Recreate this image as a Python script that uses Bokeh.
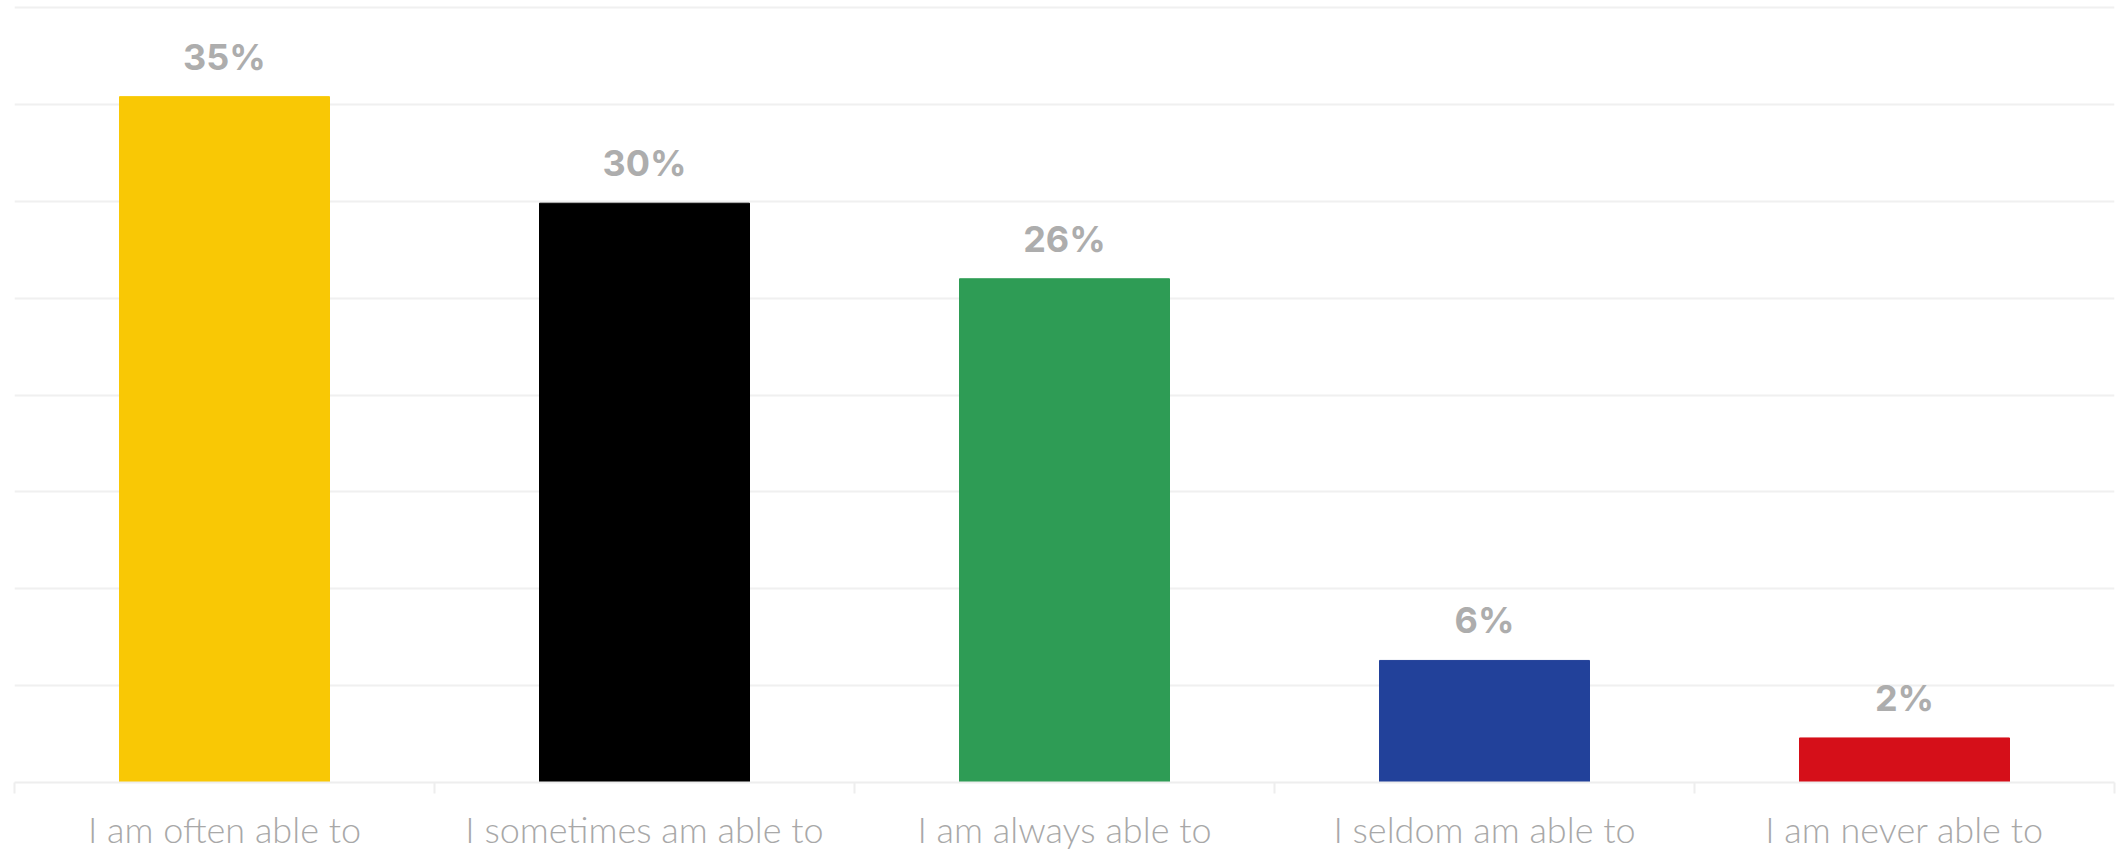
from bokeh.plotting import figure
from bokeh.models import Range1d, FixedTicker, LinearAxis, ColumnDataSource
from bokeh.core.properties import value
from bokeh.embed import file_html
from bokeh.resources import INLINE

categories = ["I am often able to", "I sometimes am able to", "I am always able to",
              "I seldom am able to", "I am never able to"]
values = [35.4, 29.9, 26.0, 6.3, 2.3]
value_labels = ["35%", "30%", "26%", "6%", "2%"]
colors = ["#F9C805", "#000000", "#2E9C55", "#22419A", "#D50F19"]
y_ticks = [0, 5, 10, 15, 20, 25, 30, 35, 40]

n = len(categories)
centers = [i + 0.5 for i in range(n)]
src = ColumnDataSource(dict(x=centers, top=values, lab=value_labels, color=colors))

FH = 779
p = figure(frame_width=2100, frame_height=FH, output_backend="svg", toolbar_location=None,
           x_range=Range1d(0, n), y_range=Range1d(0, 40 * FH / 775),
           min_border_left=14, min_border_right=4, min_border_top=3, min_border_bottom=0,
           x_axis_location=None, y_axis_location=None)
p.outline_line_color = None
p.background_fill_color = "white"
p.border_fill_color = "white"

p.ygrid.ticker = FixedTicker(ticks=y_ticks)
p.ygrid.grid_line_color = "#f0f0f0"
p.ygrid.grid_line_width = 2
p.xgrid.grid_line_color = None

p.vbar(x="x", top="top", width=0.5, bottom=0, color="color", source=src)
p.text(x="x", y="top", text="lab", source=src, text_align="center",
       text_baseline="alphabetic", y_offset=-40, text_color="#adadad",
       text_font=value("Inter"), text_font_style="bold", text_font_size="36px")

# separator ticks at category boundaries
ax1 = LinearAxis(ticker=FixedTicker(ticks=list(range(n + 1))))
ax1.major_label_overrides = {i: "" for i in range(n + 1)}
ax1.axis_line_color = "#eeeeee"
ax1.axis_line_width = 2
ax1.major_tick_line_color = "#eeeeee"
ax1.major_tick_line_width = 2
ax1.major_tick_out = 11
ax1.major_tick_in = 0
ax1.minor_tick_line_color = None
ax1.major_label_text_font_size = "1px"
ax1.major_label_standoff = 0
p.add_layout(ax1, "below")

# category labels at centers
ax2 = LinearAxis(ticker=FixedTicker(ticks=centers))
ax2.major_label_overrides = {c: t for c, t in zip(centers, categories)}
ax2.axis_line_color = None
ax2.major_tick_line_color = None
ax2.minor_tick_line_color = None
ax2.major_tick_out = 0
ax2.major_tick_in = 0
ax2.major_label_standoff = 13
ax2.major_label_text_font = "Lato Light"
ax2.major_label_text_font_size = "36px"
ax2.major_label_text_color = "#a8a8a8"
p.add_layout(ax2, "below")

open("out.html", "w").write(file_html(p, INLINE))
